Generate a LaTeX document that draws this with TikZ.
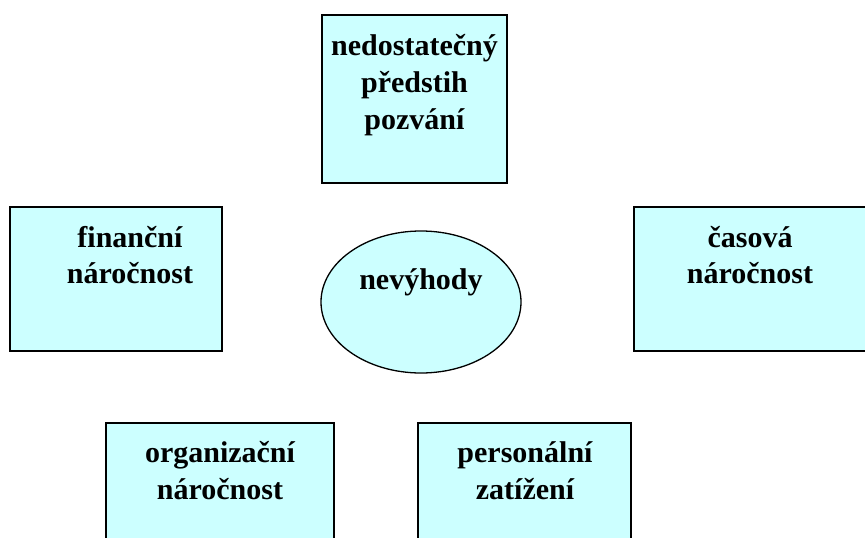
\documentclass[tikz,border=0pt]{standalone}
\usepackage{fontspec}
\setmainfont{Liberation Serif}
\usetikzlibrary{shapes.geometric,shadows}
\definecolor{boxfill}{HTML}{CCFFFF}
\tikzset{
  box/.style={draw=black, line width=1.3pt, fill=boxfill, inner sep=0pt, outer sep=0pt,
    drop shadow={shadow xshift=1.2pt, shadow yshift=-1.2pt, fill=black!45, opacity=1}},
  oval/.style={ellipse, draw=black, line width=1.3pt, fill=boxfill, inner sep=0pt, outer sep=0pt},
  lbl/.style={font=\bfseries\fontsize{30}{37}\selectfont, align=center, inner sep=0pt, anchor=base}
}
\begin{document}
\begin{tikzpicture}[x=1pt,y=-1pt]
\useasboundingbox (0,0) rectangle (865,538);
% boxes
\node[box, minimum width=185pt, minimum height=168pt, anchor=north west] (top) at (322,15) {};
\node[box, minimum width=212pt, minimum height=144pt, anchor=north west] (left) at (10,207) {};
\node[box, minimum width=240pt, minimum height=144pt, anchor=north west] (right) at (634,207) {};
\node[box, minimum width=228pt, minimum height=140pt, anchor=north west] (bl) at (106,423) {};
\node[box, minimum width=213pt, minimum height=140pt, anchor=north west] (br) at (418,423) {};
\node[oval, minimum width=200pt, minimum height=142pt] (ell) at (421,302) {};
% texts
\node[lbl] (ttop) at (414.5,55) {nedostatečný};
\node[lbl] (ttop2) at (414.5,92) {předstih};
\node[lbl] (ttop3) at (414.5,129) {pozvání};
\node[lbl] (tleft) at (130,247) {finanční};
\node[lbl] (tleft2) at (130,283) {náročnost};
\node[lbl] (tright) at (750,247) {časová};
\node[lbl] (tright2) at (750,283) {náročnost};
\node[lbl] (tbl) at (220,462) {organizační};
\node[lbl] (tbl2) at (220,499) {náročnost};
\node[lbl] (tbr) at (525,462) {personální};
\node[lbl] (tbr2) at (525,499) {zatížení};
\node[lbl] (tell) at (421,289) {nevýhody};
\end{tikzpicture}
\end{document}
